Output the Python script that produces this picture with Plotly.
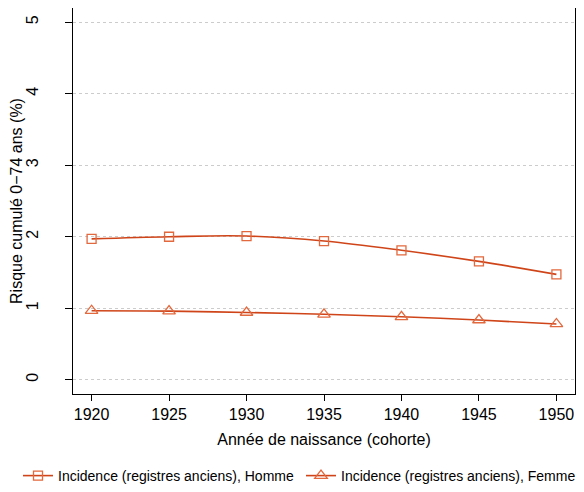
import plotly.graph_objects as go

years = [1920, 1925, 1930, 1935, 1940, 1945, 1950]
homme = [1.97, 2.00, 2.01, 1.94, 1.81, 1.655, 1.474]
femme = [0.965, 0.96, 0.94, 0.915, 0.88, 0.835, 0.78]
x_ticks = [1920, 1925, 1930, 1935, 1940, 1945, 1950]
y_ticks = [0, 1, 2, 3, 4, 5]
y_ticktext = [f"{v}<br> " for v in y_ticks]

line_col = "#CF4519"
mark_col = "#E2683E"
font = "Liberation Sans, Arial, Helvetica, sans-serif"

W, H = 576, 484  # page body has an 8px margin
ML, MR, MT, MB = 65, 9, 0, 95
PW, PH = W - ML - MR, H - MT - MB

def px_x(p):
    return (p - ML) / PW

def px_y(p):
    return (H - MB - p) / PH

fig = go.Figure()
fig.add_trace(go.Scatter(
    x=years, y=homme, mode="lines+markers", line_shape="spline",
    line=dict(color=line_col, width=1.6),
    marker=dict(symbol="square-open", size=9, color=mark_col, line=dict(width=1.3, color=mark_col)),
    name="Incidence (registres anciens), Homme", legend="legend"))
fig.add_trace(go.Scatter(
    x=years, y=femme, mode="lines+markers", line_shape="spline",
    line=dict(color=line_col, width=1.6),
    marker=dict(symbol="triangle-up-open", size=11, color=mark_col, line=dict(width=1.3, color=mark_col)),
    name="Incidence (registres anciens), Femme", legend="legend2"))

fig.update_layout(
    width=W, height=H,
    margin=dict(l=ML, r=MR, t=MT, b=MB),
    paper_bgcolor="white", plot_bgcolor="white",
    font=dict(family=font, size=16, color="black"),
    showlegend=True,
    legend=dict(x=px_x(10), y=px_y(472), xanchor="left", yanchor="middle",
                font=dict(size=14), itemwidth=30, bgcolor="rgba(0,0,0,0)", borderwidth=0),
    legend2=dict(x=px_x(293), y=px_y(472), xanchor="left", yanchor="middle",
                 font=dict(size=14), itemwidth=30, bgcolor="rgba(0,0,0,0)", borderwidth=0),
    xaxis=dict(range=[1918.8, 1951.2], tickvals=x_ticks, ticks="outside", ticklen=6,
               tickcolor="black", showline=True, linecolor="black", linewidth=1, mirror=True,
               showgrid=False, zeroline=False,
               title=dict(text="Année de naissance (cohorte)", standoff=11, font=dict(size=16))),
    yaxis=dict(range=[-0.2, 5.2], tickvals=y_ticks, ticktext=y_ticktext, ticks="outside", ticklen=7,
               tickcolor="black", showline=True, linecolor="black", linewidth=1, mirror=True,
               tickangle=-90, showgrid=True, gridcolor="#CCCCCC", griddash="dot", gridwidth=1.2,
               zeroline=False,
               title=dict(text="Risque cumulé 0−74 ans (%)", standoff=2, font=dict(size=16))),
)

fig.write_html("out.html")
